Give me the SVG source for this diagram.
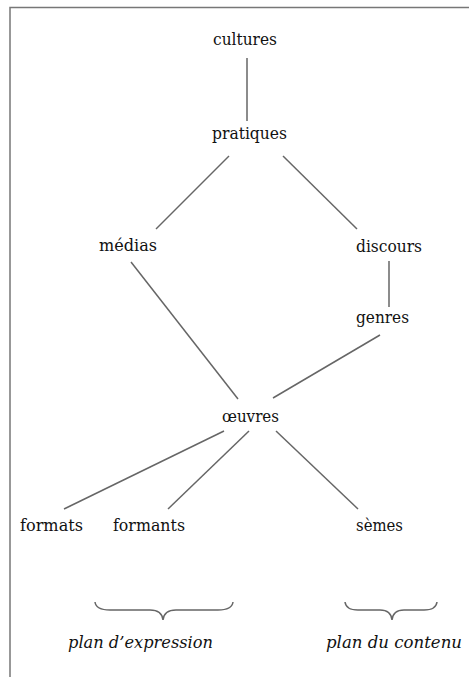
<svg xmlns="http://www.w3.org/2000/svg" width="469" height="677" viewBox="0 0 469 677">
<style>
.t{font-family:"DejaVu Serif","Liberation Serif",serif;font-size:16px;fill:#111}
.i{font-family:"DejaVu Serif","Liberation Serif",serif;font-size:16px;font-style:italic;fill:#111}
.c line,.c path{stroke:#666;stroke-width:1.5;fill:none}
</style>
<rect width="469" height="677" fill="#fff"/>
<path d="M10 677 V7.5 H469" stroke="#777" stroke-width="1.5" fill="none"/>
<g class="c" id="connectors">
<line x1="247" y1="58" x2="247" y2="121"/>
<line x1="229" y1="156" x2="156" y2="229"/>
<line x1="283" y1="156" x2="357" y2="229"/>
<line x1="389" y1="261" x2="389" y2="307"/>
<line x1="131" y1="262" x2="238" y2="399"/>
<line x1="380" y1="335" x2="273" y2="398"/>
<line x1="224" y1="431" x2="64" y2="509"/>
<line x1="249" y1="431" x2="168" y2="509"/>
<line x1="276" y1="431" x2="358" y2="509"/>
<path d="M95 602 Q96 610 110 610 H150 Q162 610 163 620 Q164 610 176 610 H218 Q232 610 233 602"/>
<path d="M345 602 Q346 610 358 610 H380 Q391 610 392 620 Q393 610 404 610 H424 Q436 610 437 602"/>
</g>
<g id="cultures"><text class="t" x="213" y="45" textLength="64" lengthAdjust="spacingAndGlyphs">cultures</text></g>
<g id="pratiques"><text class="t" x="212" y="139" textLength="75" lengthAdjust="spacingAndGlyphs">pratiques</text></g>
<g id="medias"><text class="t" x="99" y="251" textLength="58" lengthAdjust="spacingAndGlyphs">médias</text></g>
<g id="discours"><text class="t" x="356" y="252" textLength="66" lengthAdjust="spacingAndGlyphs">discours</text></g>
<g id="genres"><text class="t" x="356" y="323" textLength="53" lengthAdjust="spacingAndGlyphs">genres</text></g>
<g id="oeuvres"><text class="t" x="222" y="422" textLength="57" lengthAdjust="spacingAndGlyphs">œuvres</text></g>
<g id="formats"><text class="t" x="20" y="531" textLength="63" lengthAdjust="spacingAndGlyphs">formats</text></g>
<g id="formants"><text class="t" x="113" y="531" textLength="72" lengthAdjust="spacingAndGlyphs">formants</text></g>
<g id="semes"><text class="t" x="356" y="531" textLength="47" lengthAdjust="spacingAndGlyphs">sèmes</text></g>
<g id="plan-expression"><text class="i" x="68" y="648" textLength="145" lengthAdjust="spacingAndGlyphs">plan d’expression</text></g>
<g id="plan-contenu"><text class="i" x="326" y="648" textLength="136" lengthAdjust="spacingAndGlyphs">plan du contenu</text></g>
</svg>
